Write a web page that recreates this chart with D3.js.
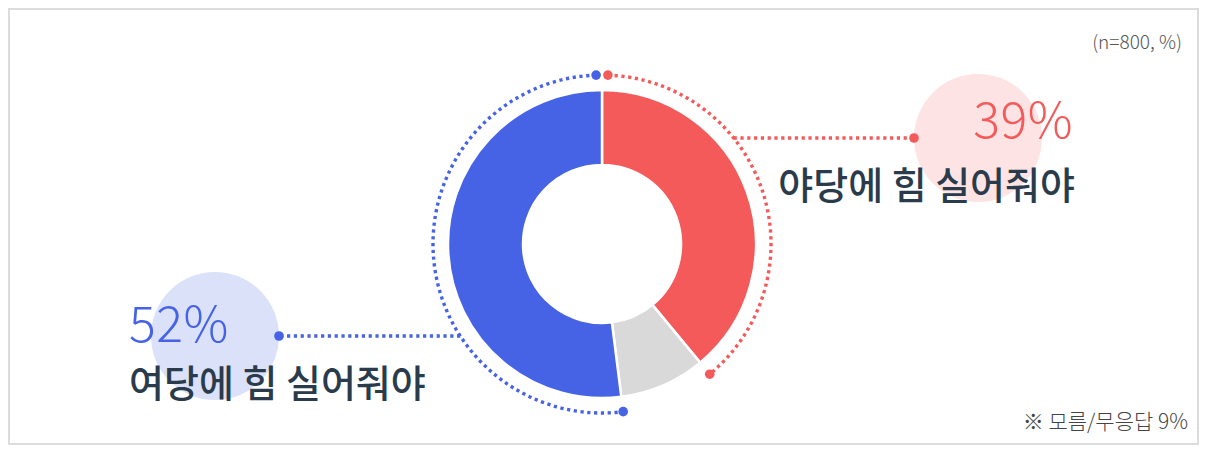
<!DOCTYPE html>
<html>
<head>
<meta charset="utf-8">
<script src="https://cdn.jsdelivr.net/npm/d3@7"></script>
<style>
  body { margin: 0; background: #fff; }
  text { font-family: "Noto Sans CJK KR", "Noto Sans", sans-serif; }
</style>
</head>
<body>
<svg width="1208" height="453"></svg>
<script>
// slices go clockwise from 12 o'clock
const categories = ['야당에 힘 실어줘야', '모름/무응답', '여당에 힘 실어줘야'];
const values = [39, 9, 52];
const colors = ['#f45a5a', '#d9d9d9', '#4563e4'];
const noteText = '(n=800, %)';
const footText = '※ 모름/무응답 9%';

const svg = d3.select('svg');
const width = +svg.attr('width');
const height = +svg.attr('height');

// frame
svg.append('rect')
  .attr('x', 9).attr('y', 9)
  .attr('width', 1189).attr('height', 435)
  .attr('fill', 'none')
  .attr('stroke', '#dcdcdc')
  .attr('stroke-width', 2);

const cx = 602, cy = 244;
const outerR = 154, innerR = 79, ringR = 169;

const pie = d3.pie().sort(null).value(d => d);
const arcs = pie(values);
const arc = d3.arc().innerRadius(innerR).outerRadius(outerR);

// soft circles behind labels
const redBubble = { x: 978, y: 138 };
const blueBubble = { x: 215, y: 336 };
svg.append('circle')
  .attr('cx', redBubble.x).attr('cy', redBubble.y).attr('r', 64)
  .attr('fill', '#fde3e3');
svg.append('circle')
  .attr('cx', blueBubble.x).attr('cy', blueBubble.y).attr('r', 64)
  .attr('fill', '#dbe1f9');

const g = svg.append('g').attr('transform', `translate(${cx}, ${cy})`);

g.selectAll('path.slice').data(arcs)
  .enter().append('path')
    .attr('class', 'slice')
    .attr('d', arc)
    .attr('fill', (d, i) => colors[i])
    .attr('stroke', '#fff')
    .attr('stroke-width', 2.5);

// dotted rings outside the donut
const toXY = (r, a) => [r * Math.sin(a), -r * Math.cos(a)];
const ringPath = (a0, a1, ccw) => {
  const p = d3.path();
  const s = toXY(ringR, a0);
  p.moveTo(s[0], s[1]);
  p.arc(0, 0, ringR, a0 - Math.PI / 2, a1 - Math.PI / 2, ccw);
  return p.toString();
};
const gap = 2 * Math.PI / 180;
const dash = '3.2 3.6';

const red = arcs[0], blue = arcs[2];
const ringSpecs = [
  { a0: red.startAngle + gap, a1: red.endAngle, ccw: false, color: colors[0] },
  { a0: blue.endAngle - gap, a1: blue.startAngle, ccw: true, color: colors[2] }
];

ringSpecs.forEach(s => {
  g.append('path')
    .attr('d', ringPath(s.a0, s.a1, s.ccw))
    .attr('fill', 'none')
    .attr('stroke', s.color)
    .attr('stroke-width', 3.4)
    .attr('stroke-dasharray', dash);
  [s.a0, s.a1].forEach(a => {
    const [x, y] = toXY(ringR, a);
    g.append('circle').attr('cx', x).attr('cy', y).attr('r', 4.8).attr('fill', s.color);
  });
});

// leader lines from ring to bubbles
const leader = (yAbs, xEnd, side, color) => {
  const dy = yAbs - cy;
  const dx = Math.sqrt(ringR * ringR - dy * dy) * side;
  svg.append('line')
    .attr('x1', cx + dx).attr('y1', yAbs)
    .attr('x2', xEnd).attr('y2', yAbs)
    .attr('stroke', color)
    .attr('stroke-width', 3.4)
    .attr('stroke-dasharray', dash);
  svg.append('circle').attr('cx', xEnd).attr('cy', yAbs).attr('r', 4.8).attr('fill', color);
};
leader(redBubble.y, redBubble.x - 64, 1, colors[0]);
leader(blueBubble.y, blueBubble.x + 64, -1, colors[2]);

// labels
svg.append('text')
  .attr('x', 1073).attr('y', 138)
  .attr('text-anchor', 'end')
  .attr('font-size', 50).attr('font-weight', 300)
  .attr('letter-spacing', 0.5)
  .attr('fill', colors[0])
  .text(values[0] + '%');
svg.append('text')
  .attr('x', 1075).attr('y', 199)
  .attr('text-anchor', 'end')
  .attr('font-size', 38).attr('font-weight', 500)
  .attr('fill', '#2a3b4c')
  .text(categories[0]);

svg.append('text')
  .attr('x', 129).attr('y', 342)
  .attr('font-size', 50).attr('font-weight', 300)
  .attr('letter-spacing', 0.5)
  .attr('fill', colors[2])
  .text(values[2] + '%');
svg.append('text')
  .attr('x', 129).attr('y', 397)
  .attr('font-size', 38).attr('font-weight', 500)
  .attr('fill', '#2a3b4c')
  .text(categories[2]);

svg.append('text')
  .attr('x', 1182).attr('y', 49)
  .attr('text-anchor', 'end')
  .attr('font-size', 19)
  .attr('font-weight', 300)
  .attr('fill', '#555')
  .text(noteText);
svg.append('text')
  .attr('x', 1188).attr('y', 429)
  .attr('text-anchor', 'end')
  .attr('font-size', 21)
  .attr('font-weight', 300)
  .attr('fill', '#444')
  .text(footText);
</script>
</body>
</html>
